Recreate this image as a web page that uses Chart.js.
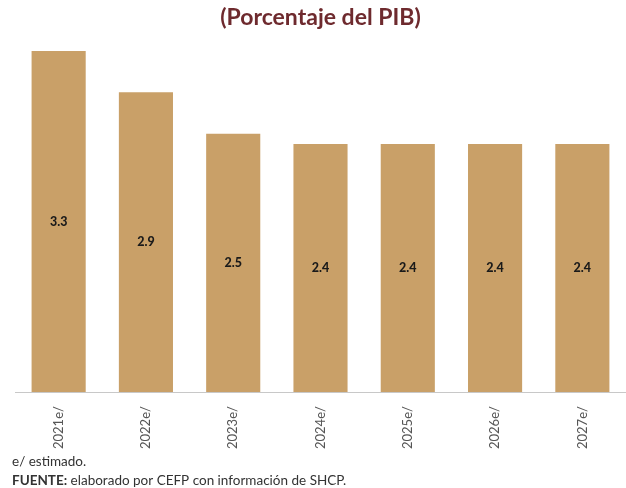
<!DOCTYPE html>
<html lang="es">
<head>
    <meta charset="UTF-8">
    <title>Porcentaje del PIB</title>
    <style>
        body { margin: 0; background: #fff; }
        #wrap { width: 626px; height: 488px; }
    </style>
</head>
<body>
    <div id="wrap">
        <canvas id="pibChart" width="626" height="488"></canvas>
    </div>

    <script src="https://cdn.jsdelivr.net/npm/chart.js"></script>
    <script>
        // datos
        const years = ['2021e/', '2022e/', '2023e/', '2024e/', '2025e/', '2026e/', '2027e/'];
        const pibValues = [3.3, 2.9, 2.5, 2.4, 2.4, 2.4, 2.4];
        const noteLine = 'e/ estimado.';
        const sourceLabel = 'FUENTE:';
        const sourceText = ' elaborado por CEFP con información de SHCP.';

        const fontFamily = 'Lato, "Noto Sans", sans-serif';

        // valor dentro de cada barra
        const barLabels = {
            id: 'barLabels',
            afterDatasetsDraw(chart) {
                const ctx = chart.ctx;
                const meta = chart.getDatasetMeta(0);
                ctx.save();
                ctx.font = '900 12.5px ' + fontFamily;
                ctx.fillStyle = '#1a1a1a';
                ctx.textAlign = 'center';
                ctx.textBaseline = 'middle';
                meta.data.forEach((bar, i) => {
                    const mid = (bar.y + bar.base) / 2;
                    ctx.fillText(pibValues[i].toFixed(1), bar.x, mid);
                });
                ctx.restore();
            }
        };

        // nota y fuente al pie
        const footNotes = {
            id: 'footNotes',
            afterDraw(chart) {
                const ctx = chart.ctx;
                ctx.save();
                ctx.fillStyle = '#333';
                ctx.textBaseline = 'middle';
                ctx.font = '13.5px ' + fontFamily;
                ctx.fillText(noteLine, 12, 462);
                ctx.font = 'bold 13.5px ' + fontFamily;
                ctx.fillText(sourceLabel, 12, 481);
                const w = ctx.measureText(sourceLabel).width;
                ctx.font = '13.5px ' + fontFamily;
                ctx.fillText(sourceText, 12 + w, 481);
                ctx.restore();
            }
        };

        const ctx = document.getElementById('pibChart').getContext('2d');
        const pibChart = new Chart(ctx, {
            type: 'bar',
            data: {
                labels: years,
                datasets: [{
                    data: pibValues,
                    backgroundColor: '#c9a068',
                    barPercentage: 0.62,
                    categoryPercentage: 1
                }]
            },
            options: {
                responsive: false,
                animation: false,
                layout: { padding: { left: 15, right: 0, top: 0, bottom: 33 } },
                plugins: {
                    legend: { display: false },
                    tooltip: { enabled: false },
                    title: {
                        display: true,
                        text: '(Porcentaje del PIB)',
                        color: '#6e2a2e',
                        font: { family: fontFamily, size: 23, weight: 'bold' },
                        padding: { top: 4, bottom: 9 }
                    }
                },
                scales: {
                    x: {
                        grid: { display: false },
                        border: { display: true, color: '#c8c8c8' },
                        ticks: {
                            color: '#555',
                            font: { family: fontFamily, size: 13 },
                            minRotation: 90,
                            maxRotation: 90,
                            padding: 6
                        }
                    },
                    y: {
                        display: false,
                        min: 0,
                        max: 3.4
                    }
                }
            },
            plugins: [barLabels, footNotes]
        });
    </script>
</body>
</html>
